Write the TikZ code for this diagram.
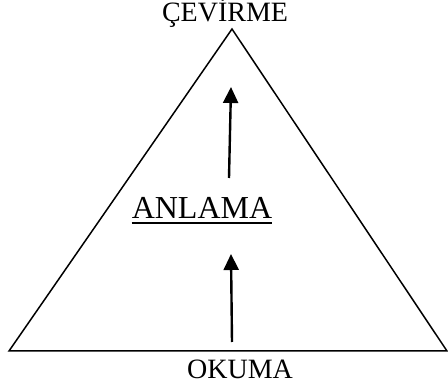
\documentclass[tikz,border=0pt]{standalone}
\usepackage{fontspec}
\setmainfont{Liberation Serif}
\usetikzlibrary{arrows.meta}
\begin{document}
\begin{tikzpicture}[x=1pt,y=-1pt,
		lbl/.style={inner sep=0pt, anchor=base, font=\fontsize{28}{30}\selectfont},
		ok/.style={line width=2.4pt, -{Triangle[length=16pt,width=15pt]}}]
			\useasboundingbox (0,0) rectangle (448,385);
			\draw (232,29) coordinate (T);
			\draw (9,351) coordinate (L);
			\draw (447,351) coordinate (R);
			\draw[line width=1.5pt, line join=miter] (L) -- (T) -- (R) -- cycle;
			\draw (225,22) node[lbl] (cev) {ÇEVİRME};
			\draw (240,379) node[lbl] (oku) {OKUMA};
			\draw (202,219) node[lbl, font=\fontsize{32}{34}\selectfont] (anl) {ANLAMA};
			\draw[line width=2pt] ([yshift=-4pt]anl.base west) -- ([yshift=-4pt]anl.base east);
			\draw (232,342) coordinate (a1) (231,254) coordinate (b1);
			\draw (229,178) coordinate (a2) (231,87) coordinate (b2);
			\draw[ok] (a1) -- (b1);
			\draw[ok] (a2) -- (b2);
		\end{tikzpicture}
\end{document}
